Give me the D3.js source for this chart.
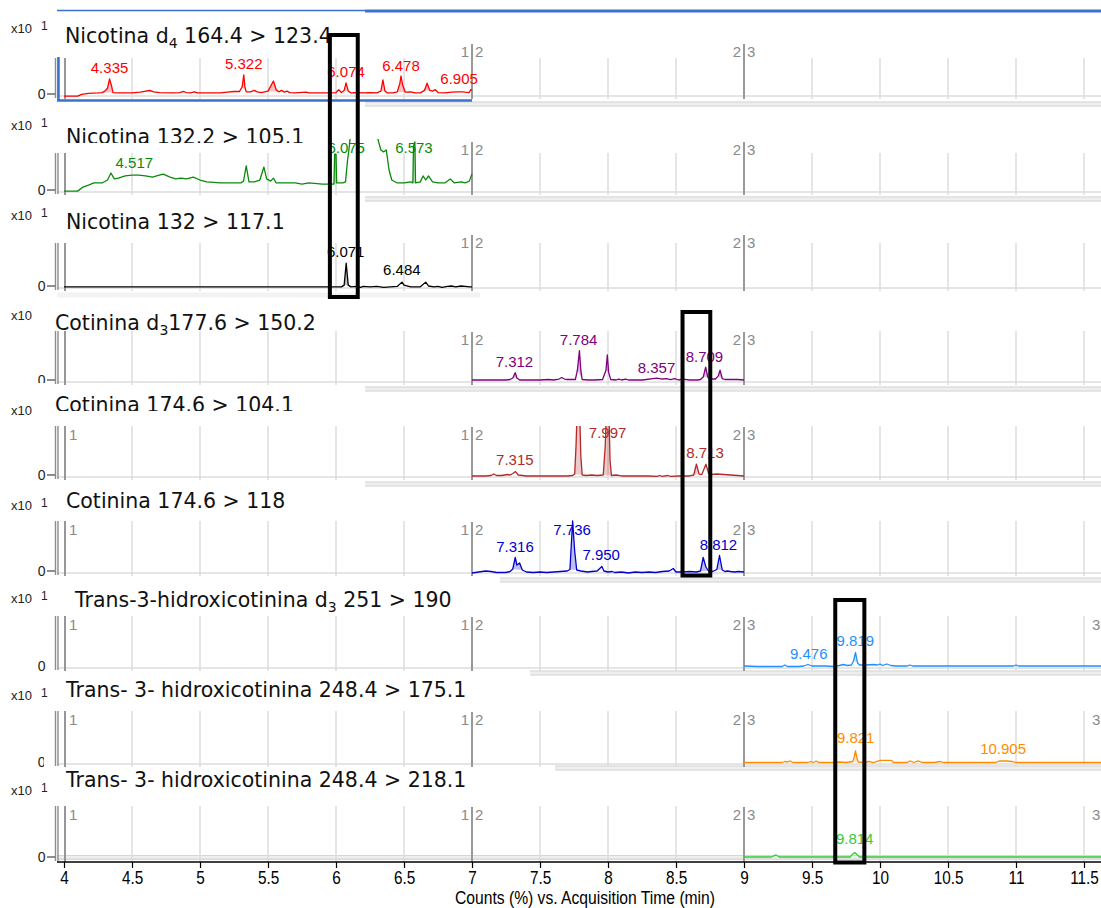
<!DOCTYPE html>
<html>
<head>
<meta charset="utf-8">
<script src="https://cdn.jsdelivr.net/npm/d3@7"></script>
<style>
  html, body { margin: 0; padding: 0; background: #fff; }
  svg { display: block; }
</style>
</head>
<body>
<svg id="chart" width="1101" height="908"></svg>
<script>
// ---------------- data ----------------
const timeTicks = [4, 4.5, 5, 5.5, 6, 6.5, 7, 7.5, 8, 8.5, 9, 9.5, 10, 10.5, 11, 11.5];
const gridTimes = [4.5, 5, 5.5, 6, 6.5, 7.5, 8, 8.5, 9.5, 10, 10.5, 11, 11.5];
const segmentBounds = [[7, "1", "2"], [9, "2", "3"]];

const traceTitles = [
  "Nicotina d{4} 164.4 > 123.4",
  "Nicotina 132.2 > 105.1",
  "Nicotina 132 > 117.1",
  "Cotinina d{3}177.6 > 150.2",
  "Cotinina 174.6 > 104.1",
  "Cotinina 174.6 > 118",
  "Trans-3-hidroxicotinina d{3} 251 > 190",
  "Trans- 3- hidroxicotinina 248.4 > 175.1",
  "Trans- 3- hidroxicotinina 248.4 > 218.1"
];
const scaleExponent = ["1", "1", "1", "", "", "1", "1", "1", "1"];
const traceColors = ["#ff0000", "#0a8a0a", "#000000", "#800080", "#b22a2a", "#0000d0", "#1e90ff", "#ff8c00", "#33cc33"];

// Counts (% of panel full scale) vs. acquisition time (min)
const nicotinaD4 = [[4.00,-6],[4.10,-6],[4.13,-1],[4.18,2],[4.25,3],[4.28,4],[4.30,8],[4.32,16],[4.335,42],[4.35,22],[4.36,4],[4.40,3],[4.45,3],[4.50,3],[4.56,5],[4.60,8],[4.63,10],[4.66,6],[4.70,4],[4.80,3],[4.85,4],[4.88,7],[4.90,4],[4.93,3],[4.96,6],[4.98,3],[5.05,3],[5.15,3],[5.20,5],[5.25,7],[5.29,7],[5.31,20],[5.322,53],[5.33,20],[5.34,6],[5.37,6],[5.40,10],[5.42,6],[5.45,4],[5.50,8],[5.54,36],[5.56,12],[5.58,6],[5.60,10],[5.62,5],[5.64,8],[5.66,4],[5.70,3],[5.78,5],[5.80,3],[5.90,3],[5.97,3],[6.00,4],[6.02,12],[6.04,4],[6.06,10],[6.074,31],[6.09,8],[6.11,3],[6.15,4],[6.20,3],[6.25,4],[6.30,3],[6.33,8],[6.345,39],[6.36,8],[6.38,3],[6.42,3],[6.45,6],[6.47,30],[6.478,50],[6.49,25],[6.51,5],[6.55,6],[6.58,3],[6.62,3],[6.65,10],[6.67,30],[6.69,10],[6.71,8],[6.73,12],[6.75,4],[6.80,3],[6.85,5],[6.90,6],[6.93,6],[6.95,5],[6.98,4],[6.99,12],[7.00,10]];
const nicotina1052 = [[4.00,-3],[4.10,-3],[4.14,8],[4.18,13],[4.22,19],[4.28,19],[4.32,27],[4.345,46],[4.37,30],[4.40,32],[4.45,38],[4.50,40],[4.55,40],[4.60,38],[4.65,35],[4.70,40],[4.73,43],[4.78,35],[4.82,30],[4.86,32],[4.90,30],[4.95,35],[5.00,27],[5.05,22],[5.15,19],[5.25,19],[5.30,19],[5.32,24],[5.34,65],[5.36,22],[5.40,22],[5.44,27],[5.47,62],[5.49,30],[5.52,24],[5.54,32],[5.56,19],[5.70,19],[5.75,16],[5.80,19],[5.90,16],[5.985,16],[5.99,97],[6.00,97],[6.005,19],[6.05,19],[6.07,22],[6.085,81],[6.095,108],[6.11,162],[6.20,243],[6.29,176],[6.31,135],[6.33,108],[6.35,103],[6.37,108],[6.39,54],[6.41,27],[6.45,19],[6.50,19],[6.55,22],[6.565,19],[6.57,120],[6.58,130],[6.585,19],[6.62,22],[6.64,38],[6.66,27],[6.68,38],[6.71,22],[6.75,19],[6.80,19],[6.84,30],[6.87,19],[6.92,22],[6.95,19],[6.98,24],[7.00,43]];
const nicotina1171 = [[4.00,-2],[4.50,-2],[5.00,-2],[5.50,-2],[6.00,-2],[6.04,-2],[6.06,2],[6.075,53],[6.09,2],[6.11,-2],[6.15,-1],[6.18,-3],[6.20,-1],[6.25,-2],[6.30,-1],[6.35,-3],[6.40,-2],[6.45,-1],[6.485,9],[6.50,2],[6.55,-2],[6.62,-2],[6.66,9],[6.68,0],[6.72,-2],[6.75,-1],[6.78,-3],[6.82,-1],[6.85,0],[6.88,-2],[6.92,0],[6.95,-1],[6.98,-2],[7.00,-2]];
const cotininaD3 = [[7.00,0],[7.10,0],[7.20,0],[7.25,0],[7.28,1],[7.30,4],[7.318,15],[7.33,4],[7.35,0],[7.45,0],[7.50,0],[7.56,1],[7.60,0],[7.64,2],[7.66,5],[7.68,2],[7.70,1],[7.76,1],[7.775,20],[7.79,60],[7.80,20],[7.81,1],[7.86,0],[7.90,0],[7.96,1],[7.985,20],[7.995,51],[8.005,15],[8.02,1],[8.06,0],[8.08,2],[8.10,0],[8.13,2],[8.15,0],[8.25,0],[8.28,1],[8.33,3],[8.36,4],[8.40,2],[8.43,3],[8.46,1],[8.49,3],[8.52,0],[8.55,2],[8.60,0],[8.66,0],[8.68,1],[8.70,6],[8.718,26],[8.735,5],[8.75,2],[8.79,2],[8.81,8],[8.824,20],[8.84,3],[8.86,1],[8.95,1],[9.00,0]];
const cotinina1041 = [[7.00,-2],[7.10,-2],[7.14,-1],[7.16,2],[7.18,-1],[7.22,-1],[7.26,1],[7.28,0],[7.30,3],[7.32,7],[7.34,0],[7.40,-2],[7.55,-2],[7.70,-2],[7.74,-1],[7.755,2],[7.765,60],[7.775,150],[7.79,150],[7.80,40],[7.81,0],[7.84,-1],[7.88,0],[7.92,-1],[7.965,0],[7.98,60],[7.99,150],[8.005,150],[8.015,30],[8.025,-1],[8.06,0],[8.10,-2],[8.30,-2],[8.36,-3],[8.38,-1],[8.40,-3],[8.44,-1],[8.46,-3],[8.52,-2],[8.60,-2],[8.63,0],[8.65,22],[8.67,2],[8.69,1],[8.72,22],[8.74,3],[8.76,1],[8.80,2],[8.85,1],[8.90,0],[8.95,-1],[9.00,-2]];
const cotinina118 = [[7.00,-4],[7.05,-2],[7.10,0],[7.14,-1],[7.18,-3],[7.25,-3],[7.28,-1],[7.30,4],[7.318,27],[7.33,12],[7.35,16],[7.37,2],[7.40,-2],[7.45,-3],[7.50,-2],[7.55,-3],[7.60,-2],[7.65,-1],[7.70,0],[7.72,3],[7.74,100],[7.755,40],[7.77,2],[7.80,0],[7.85,-2],[7.88,-1],[7.92,0],[7.955,9],[7.97,0],[8.00,-2],[8.03,-1],[8.05,-3],[8.10,-2],[8.15,-4],[8.20,-2],[8.25,-3],[8.30,-2],[8.35,-3],[8.40,-1],[8.45,0],[8.48,5],[8.50,-2],[8.55,-2],[8.60,-1],[8.65,-2],[8.68,0],[8.70,27],[8.72,8],[8.74,0],[8.77,-1],[8.80,3],[8.82,31],[8.84,2],[8.86,-1],[8.88,0],[8.90,-1],[8.93,-2],[8.96,-1],[9.00,-2]];
const hidroxiD3 = [[9.00,0],[9.10,-1],[9.20,-1],[9.28,-1],[9.30,2],[9.32,-1],[9.40,-1],[9.44,0],[9.47,3],[9.50,0],[9.60,0],[9.66,-1],[9.70,1],[9.73,3],[9.76,1],[9.79,2],[9.805,10],[9.82,27],[9.835,6],[9.85,2],[9.90,2],[9.95,3],[9.98,2],[10.00,4],[10.02,1],[10.05,4],[10.08,1],[10.12,0],[10.20,0],[10.22,2],[10.24,0],[10.40,0],[10.60,0],[10.80,0],[10.98,0],[11.00,2],[11.02,0],[11.30,0],[11.63,0]];
const hidroxi1751 = [[9.00,-1],[9.10,-1],[9.20,-1],[9.28,-1],[9.30,1],[9.32,0],[9.34,2],[9.36,-1],[9.47,-1],[9.49,1],[9.51,-1],[9.53,2],[9.55,-1],[9.65,-1],[9.70,0],[9.75,-1],[9.80,1],[9.81,10],[9.82,22],[9.83,8],[9.84,0],[9.88,-1],[9.92,1],[9.95,-1],[10.00,3],[10.03,3],[10.06,3],[10.085,3],[10.10,-1],[10.20,-1],[10.22,2],[10.25,-1],[10.28,2],[10.31,-1],[10.40,-1],[10.44,1],[10.47,-1],[10.70,-1],[10.85,-1],[10.88,2],[10.93,2],[10.97,1],[11.00,-1],[11.63,-1]];
const hidroxi2181 = [[9.00,0],[9.20,0],[9.235,4],[9.26,0],[9.60,0],[9.78,0],[9.80,6],[9.815,9],[9.83,5],[9.85,0],[10.00,0],[10.50,0],[11.00,0],[11.63,0]];

// Integrated peak windows (start, end) in minutes
const nicotinaD4Fills = [[4.27,4.36],[4.56,4.68],[5.30,5.34],[5.50,5.58],[6.05,6.10],[6.33,6.37],[6.45,6.52],[6.64,6.70]];
const nicotina1052Fills = [[5.985,6.005],[6.565,6.585]];
const nicotina1171Fills = [[6.05,6.10]];
const cotininaD3Fills = [[7.29,7.34],[7.77,7.81],[7.98,8.015],[8.70,8.74],[8.81,8.845]];
const cotinina1041Fills = [[7.755,7.81],[7.965,8.025],[8.63,8.67],[8.70,8.74]];
const cotinina118Fills = [[7.29,7.38],[7.715,7.775],[8.67,8.74],[8.79,8.845]];
const hidroxiD3Fills = [[9.80,9.84]];
const hidroxi1751Fills = [[9.80,9.84]];
const hidroxi2181Fills = [[9.79,9.845]];

// Retention-time labels: [RT (min), label height (% of full scale)]
const nicotinaD4Peaks = [[4.335,58],[5.322,69],[6.074,47],[6.478,64],[6.905,28]];
const nicotina1052Peaks = [[4.517,59],[6.075,99],[6.573,100]];
const nicotina1171Peaks = [[6.071,68],[6.484,26]];
const cotininaD3Peaks = [[7.312,27],[7.784,71],[8.357,14],[8.709,37]];
const cotinina1041Peaks = [[7.315,20],[7.997,75],[8.713,34]];
const cotinina118Peaks = [[7.316,39],[7.736,73],[7.950,22],[8.812,43]];
const hidroxiD3Peaks = [[9.476,15],[9.819,40]];
const hidroxi1751Peaks = [[9.821,37],[10.905,15]];
const hidroxi2181Peaks = [[9.814,25]];

// Highlighted retention windows (min)
const windowTimes = [[5.955, 6.16], [8.548, 8.752], [9.671, 9.885]];

const traces = [nicotinaD4, nicotina1052, nicotina1171, cotininaD3, cotinina1041, cotinina118, hidroxiD3, hidroxi1751, hidroxi2181];
const fills = [nicotinaD4Fills, nicotina1052Fills, nicotina1171Fills, cotininaD3Fills, cotinina1041Fills, cotinina118Fills, hidroxiD3Fills, hidroxi1751Fills, hidroxi2181Fills];
const peaks = [nicotinaD4Peaks, nicotina1052Peaks, nicotina1171Peaks, cotininaD3Peaks, cotinina1041Peaks, cotinina118Peaks, hidroxiD3Peaks, hidroxi1751Peaks, hidroxi2181Peaks];

// ---------------- layout ----------------
const W = 1101, H = 908;
const layout = [
  { y0: 94,  top: 58,  seg: 52,  clip: 50,  sx: 33,  ty: 43,  tx: 65 },
  { y0: 190, top: 153, seg: 150, clip: 139, sx: 130, ty: 144, tx: 66, tclip: 143 },
  { y0: 286, top: 243, seg: 243, clip: 236, sx: 220, ty: 229, tx: 66 },
  { y0: 380, top: 331, seg: 340, clip: 331, sx: 320, ty: 330, tx: 55, zclip: 383 },
  { y0: 475, top: 426, seg: 435, clip: 426, sx: 415, ty: 412, tx: 55, tclip: 411, one: true },
  { y0: 571, top: 521, seg: 530, clip: 519, sx: 510, ty: 508, tx: 66, one: true },
  { y0: 666, top: 616, seg: 625, clip: 614, sx: 603, ty: 607, tx: 75, one: true, nodash: true, edge: true },
  { y0: 762, top: 711, seg: 720, clip: 709, sx: 700, ty: 697, tx: 66, one: true, nodash: true, edge: true, zclipX: 44 },
  { y0: 857, top: 806, seg: 815, clip: 804, sx: 795, ty: 787, tx: 66, one: true, edge: true }
];
const separators = [
  { y: 104, x0: 365 }, { y: 199, x0: 365 }, { y: 295, x0: 57, x1: 480, light: true },
  { y: 389, x0: 365 }, { y: 484, x0: 365 }, { y: 580, x0: 500 },
  { y: 673, x0: 530 }, { y: 768, x0: 555 }, { y: 857.5, x0: 57 }
];
const windowRows = [[35, 297], [312, 575.5], [600, 862.5]];
const axisY = 862;

const smallFont = "'Liberation Sans', Arial, Helvetica, sans-serif";
const narrowFont = "'Liberation Sans Narrow', 'Arial Narrow', 'Liberation Sans', sans-serif";
const titleFont = "'DejaVu Sans', Verdana, sans-serif";

const svg = d3.select("#chart");
const defs = svg.append("defs");
svg.append("rect").attr("width", W).attr("height", H).attr("fill", "#fff");

const x = d3.scaleLinear().domain([4, 11.625]).range([64, 1101]);

// panel separators
separators.forEach(s => {
  const g = svg.append("g");
  const x1 = s.x1 || W;
  g.append("rect").attr("x", s.x0).attr("y", s.y - 2.5).attr("width", x1 - s.x0).attr("height", 5)
    .attr("fill", s.light ? "#f3f3f3" : "#eeeeee");
  if (!s.light) {
    g.append("line").attr("x1", s.x0).attr("x2", x1).attr("y1", s.y - 2).attr("y2", s.y - 2)
      .attr("stroke", "#d6d6d6").attr("stroke-width", 1);
    g.append("line").attr("x1", s.x0).attr("x2", x1).attr("y1", s.y + 2).attr("y2", s.y + 2)
      .attr("stroke", "#d6d6d6").attr("stroke-width", 1);
  }
});

layout.forEach((L, i) => {
  const color = traceColors[i];
  const y = d3.scaleLinear().domain([0, 100]).range([L.y0, L.top]);
  const g = svg.append("g").attr("class", "panel");

  // baseline rule
  g.append("line").attr("x1", 57).attr("x2", W).attr("y1", L.y0 + 2).attr("y2", L.y0 + 2)
    .attr("stroke", "#dcdcdc").attr("stroke-width", 1.5);

  // vertical grid
  g.selectAll("line.grid").data(gridTimes).join("line").attr("class", "grid")
    .attr("x1", d => x(d)).attr("x2", d => x(d))
    .attr("y1", L.top).attr("y2", L.y0 + 5)
    .attr("stroke", "#dddddd").attr("stroke-width", 1.5);

  // left axis lines
  [55.5, 58].forEach(px => g.append("line").attr("x1", px).attr("x2", px)
    .attr("y1", L.top).attr("y2", L.y0 + 4).attr("stroke", "#8c8c8c").attr("stroke-width", 1.4));
  g.append("line").attr("x1", x(4) + 1).attr("x2", x(4) + 1).attr("y1", L.top).attr("y2", L.y0 + 5)
    .attr("stroke", "#8c8c8c").attr("stroke-width", 1.8);

  // acquisition segment boundaries
  segmentBounds.forEach(([t, a, b]) => {
    g.append("line").attr("x1", x(t)).attr("x2", x(t)).attr("y1", L.seg - 8).attr("y2", L.y0 + 5)
      .attr("stroke", "#999").attr("stroke-width", 2);
    g.append("text").attr("x", x(t) - 3).attr("y", L.seg).attr("dy", "0.35em")
      .attr("text-anchor", "end").attr("font-family", smallFont).attr("font-size", 15)
      .attr("fill", "#8a8a8a").text(a);
    g.append("text").attr("x", x(t) + 3).attr("y", L.seg).attr("dy", "0.35em")
      .attr("font-family", smallFont).attr("font-size", 15).attr("fill", "#8a8a8a").text(b);
  });
  if (L.one) {
    g.append("text").attr("x", x(4) + 5).attr("y", L.seg).attr("dy", "0.35em")
      .attr("font-family", smallFont).attr("font-size", 15).attr("fill", "#8a8a8a").text("1");
  }
  if (L.edge) {
    g.append("text").attr("x", 1092).attr("y", L.seg).attr("dy", "0.35em")
      .attr("font-family", smallFont).attr("font-size", 15).attr("fill", "#8a8a8a").text("3");
  }

  // zero tick
  const zc = "zc" + i;
  defs.append("clipPath").attr("id", zc).append("rect")
    .attr("x", 0).attr("y", 0).attr("width", L.zclipX || 60).attr("height", L.zclip || H);
  g.append("text").attr("clip-path", `url(#${zc})`).attr("x", 45.5).attr("y", L.y0).attr("dy", "0.35em")
    .attr("text-anchor", "end").attr("font-family", smallFont).attr("font-size", 14)
    .attr("fill", "#222").text("0");
  if (!L.nodash) {
    g.append("line").attr("clip-path", `url(#${zc})`).attr("x1", 47).attr("x2", 55).attr("y1", L.y0).attr("y2", L.y0)
      .attr("stroke", "#444").attr("stroke-width", 1.2);
  }

  // scale factor label
  g.append("text").attr("x", 11).attr("y", L.sx).attr("font-family", smallFont)
    .attr("font-size", 13).attr("fill", "#222").text("x10");
  if (scaleExponent[i]) {
    g.append("text").attr("x", 41).attr("y", L.sx - 3).attr("font-family", smallFont)
      .attr("font-size", 12).attr("fill", "#222").text(scaleExponent[i]);
  }

  // trace
  const cid = "pc" + i;
  defs.append("clipPath").attr("id", cid).append("rect")
    .attr("x", x(4)).attr("y", L.clip).attr("width", W - x(4)).attr("height", L.y0 + 6 - L.clip);
  const plot = g.append("g").attr("clip-path", `url(#${cid})`);
  const tr = traces[i];

  fills[i].forEach(([a, b]) => {
    const pts = tr.filter(d => d[0] >= a - 1e-9 && d[0] <= b + 1e-9);
    if (pts.length < 2) return;
    const p0 = pts[0], p1 = pts[pts.length - 1];
    const base = d3.scaleLinear().domain([p0[0], p1[0]]).range([p0[1], p1[1]]);
    plot.append("path").datum(pts)
      .attr("d", d3.area().x(d => x(d[0])).y0(d => y(base(d[0]))).y1(d => y(d[1])))
      .attr("fill", color).attr("fill-opacity", 0.25).attr("stroke", "none");
  });

  plot.append("path").datum(tr)
    .attr("d", d3.line().x(d => x(d[0])).y(d => y(d[1])))
    .attr("fill", "none").attr("stroke", color).attr("stroke-width", 1.3)
    .attr("stroke-linejoin", "round");

  // retention-time labels
  g.selectAll("text.rt").data(peaks[i]).join("text").attr("class", "rt")
    .attr("x", d => x(d[0])).attr("y", d => y(d[1]))
    .attr("text-anchor", "middle").attr("font-family", smallFont).attr("font-size", 15)
    .attr("fill", color).text(d => d3.format(".3f")(d[0]));

  // title
  const tc = "tc" + i;
  defs.append("clipPath").attr("id", tc).append("rect")
    .attr("x", 0).attr("y", 0).attr("width", W).attr("height", L.tclip || H);
  const title = g.append("text").attr("clip-path", `url(#${tc})`)
    .attr("x", L.tx).attr("y", L.ty).attr("font-family", titleFont).attr("font-size", 20.5)
    .attr("fill", "#111");
  traceTitles[i].split(/\{(\d)\}/).forEach((part, k) => {
    if (k % 2 === 1) {
      title.append("tspan").attr("font-size", 14).attr("dy", 5).text(part);
    } else if (part) {
      title.append("tspan").attr("dy", k > 0 ? -5 : 0).text(part);
    }
  });
});

// selection frame around the first trace
const blue = "#3a72cc";
svg.append("line").attr("x1", 57).attr("x2", 365).attr("y1", 10.5).attr("y2", 10.5)
  .attr("stroke", blue).attr("stroke-width", 1.5);
svg.append("line").attr("x1", 365).attr("x2", W).attr("y1", 11).attr("y2", 11)
  .attr("stroke", blue).attr("stroke-width", 3);
svg.append("line").attr("x1", 58.5).attr("x2", 58.5).attr("y1", 57).attr("y2", 101)
  .attr("stroke", blue).attr("stroke-width", 2.5);
svg.append("line").attr("x1", 57).attr("x2", x(7)).attr("y1", 100.5).attr("y2", 100.5)
  .attr("stroke", blue).attr("stroke-width", 2.5);

// x axis (condensed lettering)
const axis = svg.append("g").attr("transform", `translate(0,${axisY})`)
  .call(d3.axisBottom(x).tickValues(timeTicks).tickSize(6).tickPadding(3).tickFormat(d3.format("~g")));
axis.select(".domain").remove();
axis.selectAll(".tick line").attr("stroke", "#000").attr("stroke-width", 1.2);
axis.selectAll(".tick text").attr("font-family", narrowFont).attr("font-size", 18)
  .attr("fill", "#000").attr("transform", "scale(0.85,1)");
svg.append("line").attr("x1", 57).attr("x2", W).attr("y1", axisY).attr("y2", axisY)
  .attr("stroke", "#000").attr("stroke-width", 1.5);
svg.append("g").attr("transform", "translate(585,904) scale(0.87,1)")
  .append("text").attr("x", 0).attr("y", 0).attr("text-anchor", "middle")
  .attr("font-family", narrowFont).attr("font-size", 18).attr("fill", "#000")
  .text("Counts (%) vs. Acquisition Time (min)");

// highlighted retention windows
windowTimes.forEach(([t0, t1], k) => {
  const [top, bottom] = windowRows[k];
  svg.append("rect").attr("x", x(t0)).attr("y", top)
    .attr("width", x(t1) - x(t0)).attr("height", bottom - top)
    .attr("fill", "none").attr("stroke", "#000").attr("stroke-width", 4);
});
</script>
</body>
</html>
